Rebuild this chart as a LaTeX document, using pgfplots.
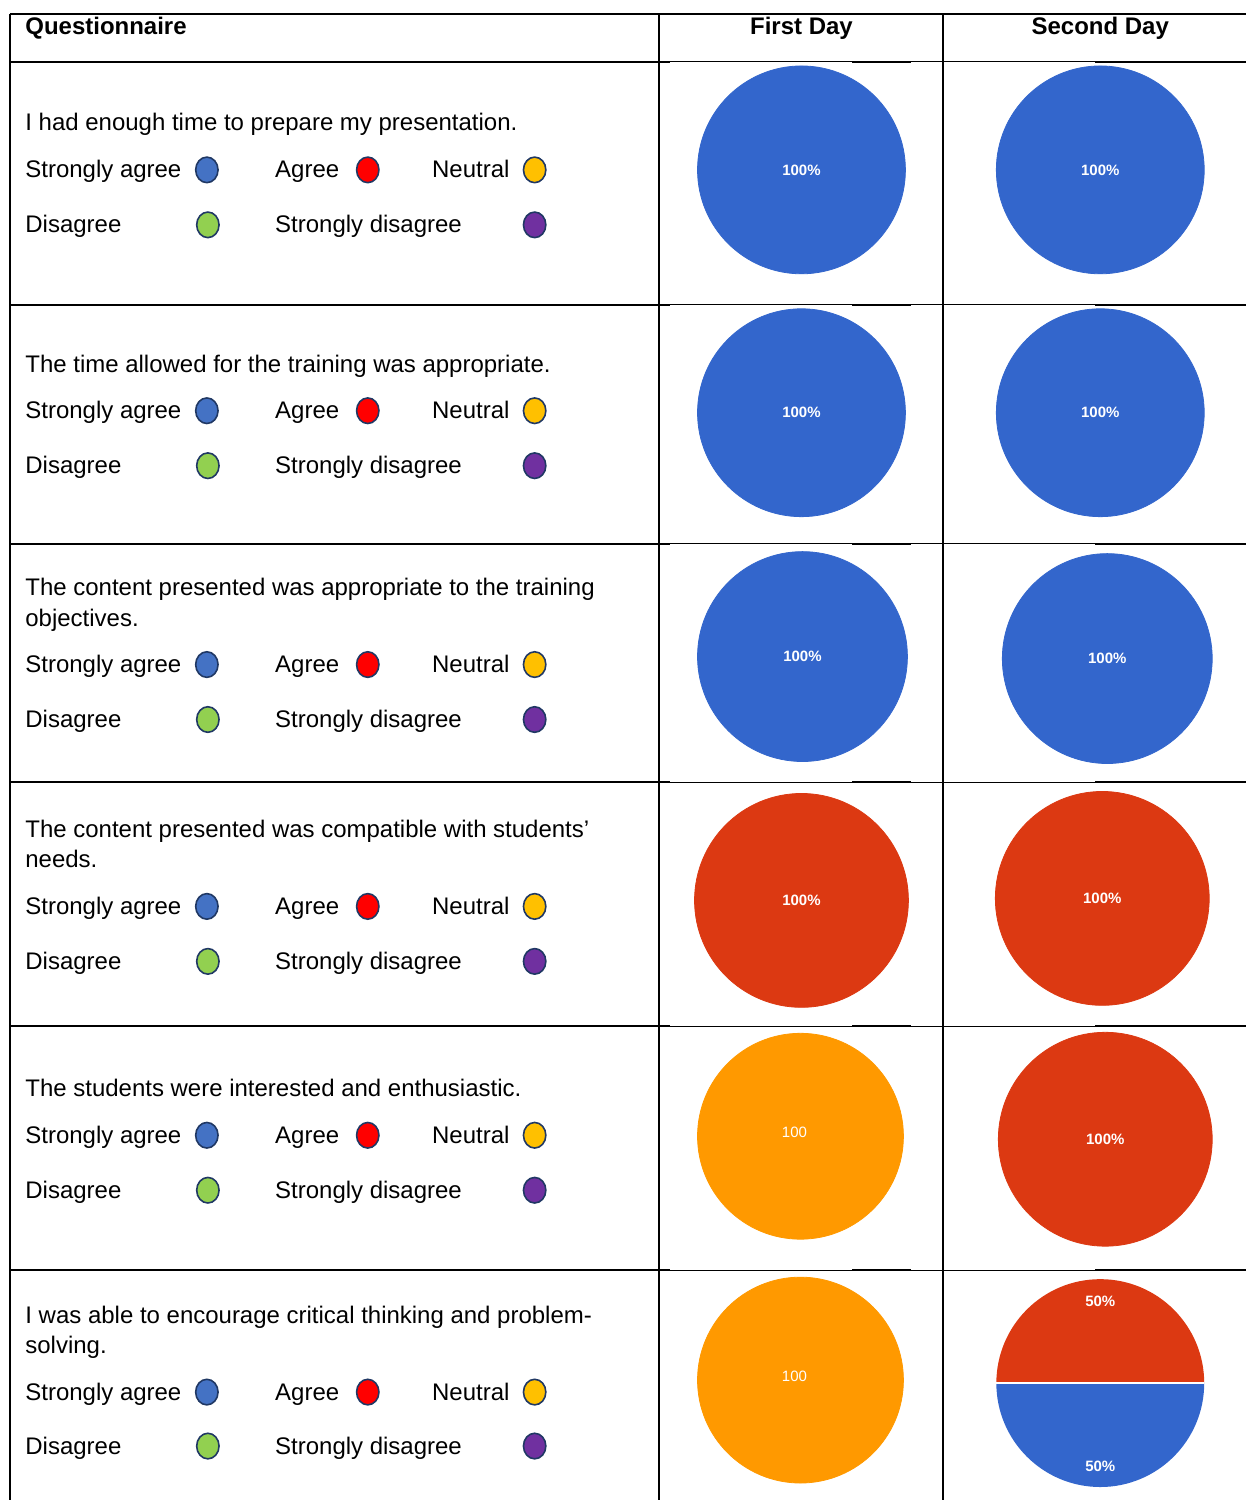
\documentclass[border=0pt]{standalone}
\usepackage{fontspec}
\setmainfont{Liberation Sans}
\usepackage{pgfplots}
\pgfplotsset{compat=1.18}

\definecolor{pieblue}{HTML}{3366CC}
\definecolor{piered}{HTML}{DC3912}
\definecolor{pieorange}{HTML}{FF9900}
\definecolor{lgblue}{HTML}{4472C4}
\definecolor{lgred}{HTML}{FF0000}
\definecolor{lgyellow}{HTML}{FFC000}
\definecolor{lggreen}{HTML}{92D050}
\definecolor{lgpurple}{HTML}{7030A0}
\definecolor{lgline}{HTML}{203864}

% half pies (two slices of 50%)
\pgfdeclareplotmark{halfup}{%
  \pgfpathmoveto{\pgfqpoint{\pgfplotmarksize}{0pt}}%
  \pgfpatharc{0}{180}{\pgfplotmarksize}%
  \pgfpathclose\pgfusepathqfill}
\pgfdeclareplotmark{halfdown}{%
  \pgfpathmoveto{\pgfqpoint{\pgfplotmarksize}{0pt}}%
  \pgfpatharc{0}{-180}{\pgfplotmarksize}%
  \pgfpathclose\pgfusepathqfill
  \pgfsetstrokecolor{white}\pgfsetlinewidth{0.6pt}%
  \pgfpathmoveto{\pgfqpoint{-\pgfplotmarksize}{0pt}}%
  \pgfpathlineto{\pgfqpoint{\pgfplotmarksize}{0pt}}%
  \pgfusepathqstroke}

\newcommand\txt{\fontsize{12}{14}\selectfont}
\newcommand\pct{\fontsize{7.5}{8}\selectfont\bfseries}
\tikzset{every node/.append style={inner sep=0pt}}

% one question row: y of the two legend lines
\newcommand\legendrows[2]{%
  \node[anchor=base west,font=\txt] at (axis cs:25,#1+8) {Strongly agree};
  \node[anchor=base west,font=\txt] at (axis cs:275,#1+8) {Agree};
  \node[anchor=base west,font=\txt] at (axis cs:432,#1+8) {Neutral};
  \node[anchor=base west,font=\txt] at (axis cs:25,#2+8) {Disagree};
  \node[anchor=base west,font=\txt] at (axis cs:275,#2+8) {Strongly disagree};
  \filldraw[fill=lgblue,draw=lgline,line width=0.8pt] (axis cs:207,#1) ellipse [x radius=5.6pt,y radius=6.4pt];
  \filldraw[fill=lgred,draw=lgline,line width=0.8pt] (axis cs:368,#1) ellipse [x radius=5.6pt,y radius=6.4pt];
  \filldraw[fill=lgyellow,draw=lgline,line width=0.8pt] (axis cs:535,#1) ellipse [x radius=5.6pt,y radius=6.4pt];
  \filldraw[fill=lggreen,draw=lgline,line width=0.8pt] (axis cs:208,#2) ellipse [x radius=5.6pt,y radius=6.4pt];
  \filldraw[fill=lgpurple,draw=lgline,line width=0.8pt] (axis cs:535,#2) ellipse [x radius=5.6pt,y radius=6.4pt];
}
\newcommand\rowline[1]{%
  \draw[line width=1pt] (axis cs:10,#1) -- (axis cs:670,#1);
  \draw[line width=0.5pt] (axis cs:670,#1) -- (axis cs:853,#1);
  \draw[line width=1pt] (axis cs:853,#1) -- (axis cs:912,#1);
  \draw[line width=0.5pt] (axis cs:912,#1) -- (axis cs:1096,#1);
  \draw[line width=1pt] (axis cs:1096,#1) -- (axis cs:1247,#1);
}

\begin{document}
\begin{tikzpicture}
\begin{axis}[
  scale only axis,
  width=623.5pt, height=750.5pt,
  xmin=0, xmax=1247, ymin=0, ymax=1501,
  y dir=reverse,
  hide axis,
  clip=false,
  pie/.style={only marks, mark=*, mark options={draw=none},
    nodes near coords align=center,
    every node near coord/.style={white, font=\pct, anchor=center}},
  pct100/.style={nodes near coords={100\%}},
  plain100/.style={nodes near coords={100},
    every node near coord/.style={white, font=\fontsize{7.5}{8}\selectfont,
      anchor=center, xshift=-3pt, yshift=2pt}},
]
\path (axis cs:0,0) rectangle (axis cs:1247,1501);
% pies: first day / second day (all answers in one category = 100%)
\addplot[pie, pct100, pieblue, mark size=52pt] coordinates {(802,170)};
\addplot[pie, pct100, pieblue, mark size=52pt] coordinates {(1101,170)};
\addplot[pie, pct100, pieblue, mark size=52pt] coordinates {(802,413)};
\addplot[pie, pct100, pieblue, mark size=52pt] coordinates {(1101,413)};
\addplot[pie, pct100, pieblue, mark size=52.5pt] coordinates {(803,657)};
\addplot[pie, pct100, pieblue, mark size=52.5pt] coordinates {(1108,659)};
\addplot[pie, pct100, piered, mark size=53.5pt] coordinates {(802,901)};
\addplot[pie, pct100, piered, mark size=53.5pt] coordinates {(1103,899)};
\addplot[pie, plain100, pieorange, mark size=51.5pt] coordinates {(801,1137)};
\addplot[pie, pct100, piered, mark size=53.5pt] coordinates {(1106,1140)};
\addplot[pie, plain100, pieorange, mark size=51.5pt] coordinates {(801,1381)};
% last row, second day: 50% agree, 50% strongly agree
\addplot[pie, mark=halfup, piered, mark size=52pt,
  nodes near coords={50\%}, every node near coord/.append style={yshift=41pt}]
  coordinates {(1101,1384)};
\addplot[pie, mark=halfdown, pieblue, mark size=52pt,
  nodes near coords={50\%}, every node near coord/.append style={yshift=-41.5pt}]
  coordinates {(1101,1384)};

% table rules
\draw[line width=1pt] (axis cs:10,14) -- (axis cs:1247,14);
\rowline{62}
\rowline{305}
\rowline{544}
\rowline{783}
\rowline{1027}
\rowline{1271}
\draw[line width=1pt] (axis cs:10,14) -- (axis cs:10,1501);
\draw[line width=1pt] (axis cs:659,14) -- (axis cs:659,1501);
\draw[line width=1pt] (axis cs:944,14) -- (axis cs:944,1501);

% headers
\node[anchor=base west,font=\txt\bfseries] at (axis cs:25,35) {Questionnaire};
\node[anchor=base,font=\txt\bfseries] at (axis cs:802,35) {First Day};
\node[anchor=base,font=\txt\bfseries] at (axis cs:1101,35) {Second Day};

% questions
\node[anchor=base west,font=\txt] at (axis cs:25,131) {I had enough time to prepare my presentation.};
\legendrows{170}{225}
\node[anchor=base west,font=\txt] at (axis cs:25,373) {The time allowed for the training was appropriate.};
\legendrows{411}{466}
\node[anchor=base west,font=\txt] at (axis cs:25,596) {The content presented was appropriate to the training};
\node[anchor=base west,font=\txt] at (axis cs:25,627) {objectives.};
\legendrows{665}{720}
\node[anchor=base west,font=\txt] at (axis cs:25,838) {The content presented was compatible with students’};
\node[anchor=base west,font=\txt] at (axis cs:25,868) {needs.};
\legendrows{907}{962}
\node[anchor=base west,font=\txt] at (axis cs:25,1097) {The students were interested and enthusiastic.};
\legendrows{1136}{1191}
\node[anchor=base west,font=\txt] at (axis cs:25,1324) {I was able to encourage critical thinking and problem-};
\node[anchor=base west,font=\txt] at (axis cs:25,1354) {solving.};
\legendrows{1393}{1447}
\end{axis}
\end{tikzpicture}
\end{document}
